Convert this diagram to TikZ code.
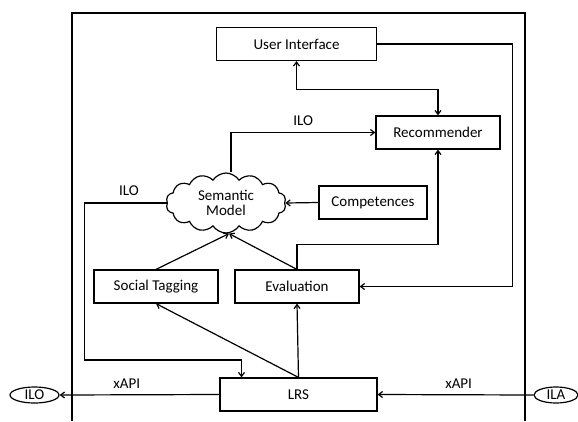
\documentclass[tikz,border=0pt]{standalone}
\usepackage{fontspec}
\setmainfont{Carlito}
\usepackage{tikz}
\usetikzlibrary{arrows.meta,shapes.symbols,shapes.geometric}
\tikzset{>={Straight Barb[length=4pt,width=6pt]}}
\tikzset{block/.style={draw, line width=1.2pt, rectangle, minimum height=33pt, inner sep=2pt}}
\tikzset{semcloud/.style={draw, line width=1.2pt, cloud, cloud puffs=14, cloud puff arc=115, aspect=2, minimum width=120pt, minimum height=60pt, inner sep=0pt, align=center}}
\tikzset{extern/.style={draw, line width=1.2pt, ellipse, inner sep=0pt, minimum height=16pt}}
\tikzset{edge/.style={line width=1.2pt}}
\tikzset{arc/.style={->, line width=1.2pt}}

\begin{document}
\begin{tikzpicture}[x=1pt,y=-1pt,font=\fontsize{15}{15.5}\selectfont]
\useasboundingbox (0,0) rectangle (578,421);
%frame
\draw[edge] (72,421) |- (525,13) -- (525,421);
%upper part
\node (ui) at (296.5,44)[block, minimum width=160pt]{User Interface};
\node (rec) at (438,132.5)[block, minimum width=124pt]{Recommender};
\node (sem) at (226,203)[semcloud]{Semantic\\Model};
\node (comp) at (373,202.5)[block, minimum width=108pt]{Competences};
%lower part
\node (soc) at (156,286.5)[block, minimum width=124pt]{Social Tagging};
\node (eval) at (297,286.5)[block, minimum width=124pt]{Evaluation};
\node (lrs) at (298.5,394.5)[block, minimum width=157pt]{LRS};
\node (ilo) at (34.5,395)[extern, minimum width=49pt]{ILO};
\node (ila) at (556,395)[extern, minimum width=44pt]{ILA};

\draw[arc, <->] (ui.south) -- ++(0,28) -| (rec.north);
\draw[arc] (ui.east) -- ++(135,0) |- (eval.east);
\draw[arc] ([xshift=5]sem.north) |- (rec.west) node[pos=0.75, above=3pt]{ILO};
\draw[arc] (comp.west) -- (sem.east);
\draw[arc] (soc.north) -- ([xshift=3]sem.south);
\draw[arc] (eval.north) -- ([xshift=3]sem.south);
\draw[arc] (eval.north) -- ++(0,-25) -| (rec.south);
\draw[arc] (sem.west) -| ++(-82,157) -| ([xshift=-57]lrs.north);
\node at (129,191){ILO};
\draw[arc] (lrs.north) -- (soc.south);
\draw[arc] (lrs.north) -- (eval.south);
\draw[arc] (lrs.west) -- (ilo.east) node[pos=0.58, above=2pt]{xAPI};
\draw[arc] (ila.west) -- (lrs.east) node[pos=0.48, above=2pt]{xAPI};
\end{tikzpicture}
\end{document}
